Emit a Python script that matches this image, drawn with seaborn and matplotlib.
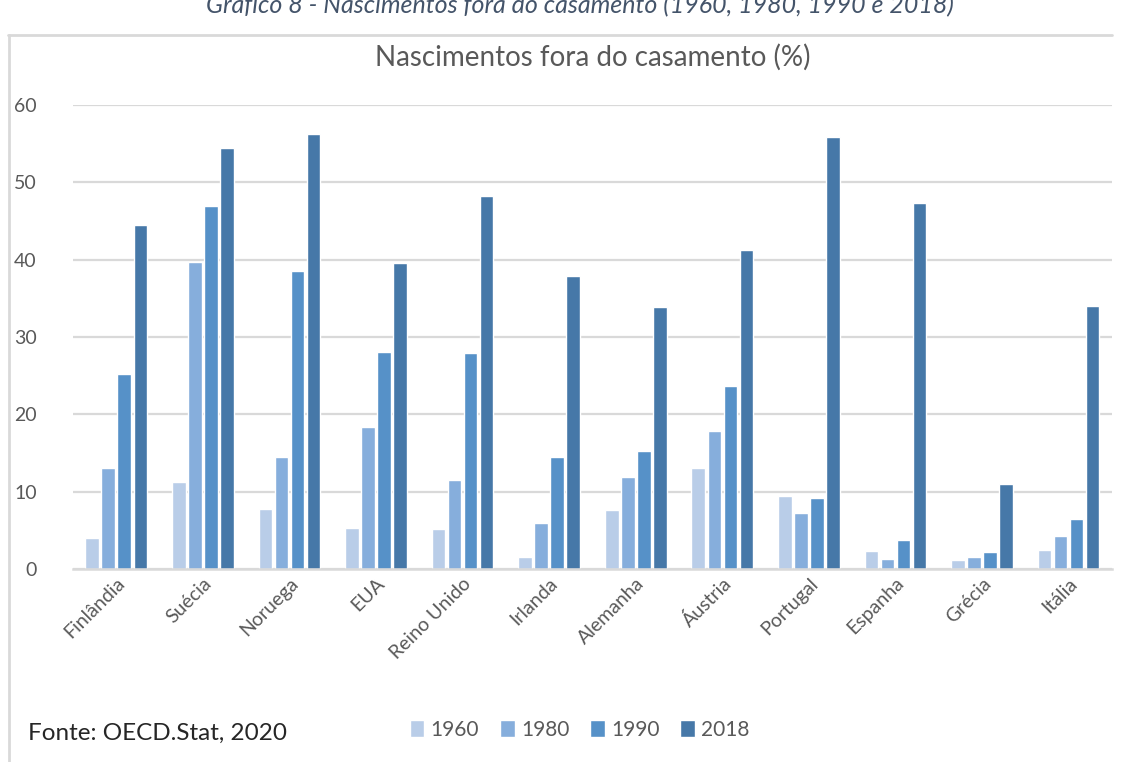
import pandas as pd
import matplotlib.pyplot as plt
import matplotlib.lines as mlines
import seaborn as sns

# Data
countries = ["Finlândia", "Suécia", "Noruega", "EUA", "Reino Unido", "Irlanda",
             "Alemanha", "Áustria", "Portugal", "Espanha", "Grécia", "Itália"]
years = ["1960", "1980", "1990", "2018"]
v1960 = [4.0, 11.3, 7.8, 5.3, 5.2, 1.5, 7.6, 13.0, 9.5, 2.3, 1.2, 2.4]
v1980 = [13.0, 39.7, 14.5, 18.4, 11.5, 5.9, 11.9, 17.8, 7.3, 1.3, 1.5, 4.3]
v1990 = [25.2, 47.0, 38.5, 28.0, 27.9, 14.5, 15.3, 23.6, 9.2, 3.8, 2.2, 6.5]
v2018 = [44.5, 54.5, 56.3, 39.6, 48.2, 37.9, 33.9, 41.3, 55.9, 47.3, 11.0, 34.0]
colors = ["#b9cde8", "#86aedc", "#5691c8", "#4678a8"]

rows = []
for year, vals in zip(years, [v1960, v1980, v1990, v2018]):
    for c, v in zip(countries, vals):
        rows.append({"pais": c, "ano": year, "valor": v})
df = pd.DataFrame(rows)

sns.set_theme(style="white")
plt.rcParams['font.family'] = ['Lato', 'DejaVu Sans']

fig = plt.figure(figsize=(11.3, 7.62), dpi=100)
ax = fig.add_axes([0.0646, 0.2533, 0.9194, 0.6089])

sns.barplot(data=df, x="pais", y="valor", hue="ano", palette=colors,
            width=0.74, gap=0.15, ax=ax, legend=True, saturation=1)

ax.set_ylim(0, 60)
ax.set_yticks(range(0, 61, 10))
ax.set_xlim(-0.5, len(countries) - 0.5)
ax.grid(axis="y", color="#d9d9d9", linewidth=1.6)
ax.set_axisbelow(True)
for s in ["top", "right", "left"]:
    ax.spines[s].set_visible(False)
ax.spines["bottom"].set_color("#d9d9d9")
ax.spines["bottom"].set_linewidth(1.8)
ax.set_xlabel("")
ax.set_ylabel("")
ax.tick_params(axis="y", labelsize=14, labelcolor="#595959", pad=26, length=0)
ax.tick_params(axis="x", labelsize=14, labelcolor="#595959", pad=4, length=0)
plt.setp(ax.get_xticklabels(), rotation=45, ha="right", rotation_mode="anchor")

ax.set_title("Nascimentos fora do casamento (%)", fontsize=20, color="#595959", pad=28)

# legend at the bottom
handles, labels = ax.get_legend_handles_labels()
ax.get_legend().remove()
fig.legend(handles, labels, loc="center", bbox_to_anchor=(0.513, 0.042), ncol=4,
           frameon=False, fontsize=15, labelcolor="#595959", handlelength=0.7,
           handleheight=0.9, handletextpad=0.3, columnspacing=1.0)

fig.text(0.025, 0.038, "Fonte: OECD.Stat, 2020", fontsize=17.5, color="#262626",
         ha="left", va="center")

# caption above the chart box (cut off at the top, as in the source)
fig.text(0.513, 0.983, "Gráfico 8 - Nascimentos fora do casamento (1960, 1980, 1990 e 2018)",
         fontsize=18, color="#44546a", style="italic", ha="center", va="baseline")

# chart box border (top and left)
fig.add_artist(mlines.Line2D([0.007, 0.984], [0.954, 0.954], color="#d9d9d9", linewidth=2))
fig.add_artist(mlines.Line2D([0.008, 0.008], [0.954, 0.0], color="#d9d9d9", linewidth=2))

fig.savefig("out.png", dpi=100)
